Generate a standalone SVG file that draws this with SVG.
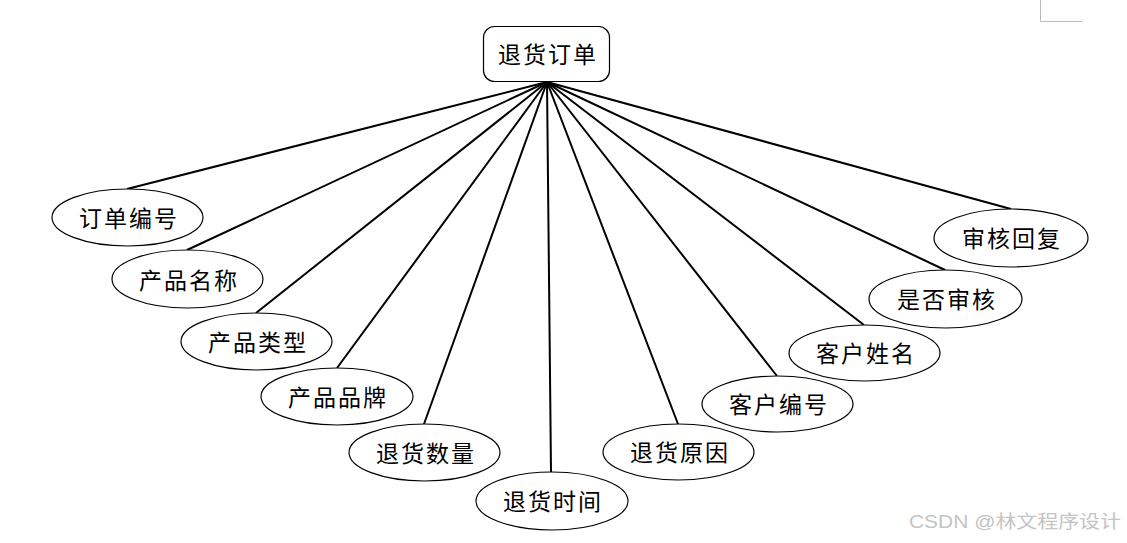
<svg xmlns="http://www.w3.org/2000/svg" width="1127" height="543" viewBox="0 0 1127 543">
<style>
.n ellipse{fill:#fff;stroke:#000;stroke-width:1.2}
.n rect{fill:#fff;stroke:#000;stroke-width:1.2}
.n text{font-family:"Noto Sans CJK SC","Noto Sans CJK JP",sans-serif;font-size:23px;letter-spacing:2px;fill:#000;text-anchor:middle;dominant-baseline:central}
#edges line{stroke:#000;stroke-width:2}
.wm{font-family:"Liberation Sans","Noto Sans CJK SC",sans-serif;font-size:18px;fill:#c4c4c4}
</style>
<rect width="1127" height="543" fill="#fff"/>
<path d="M1040.5 0 V21.5 H1082" fill="none" stroke="#bbb" stroke-width="1"/>
<g id="edges">
<line x1="547" y1="82" x2="127" y2="189"/>
<line x1="547" y1="82" x2="187" y2="250"/>
<line x1="547" y1="82" x2="256" y2="313"/>
<line x1="547" y1="82" x2="337" y2="368"/>
<line x1="547" y1="82" x2="424" y2="424"/>
<line x1="547" y1="82" x2="551" y2="472"/>
<line x1="547" y1="82" x2="678" y2="424"/>
<line x1="547" y1="82" x2="777" y2="376"/>
<line x1="547" y1="82" x2="864" y2="325"/>
<line x1="547" y1="82" x2="945" y2="270"/>
<line x1="547" y1="82" x2="1011" y2="209"/>
</g>
<g id="root" class="n"><rect x="483.5" y="26.5" width="126" height="55" rx="11"/><text x="548" y="53">退货订单</text></g>
<g id="n1" class="n"><ellipse cx="127.5" cy="217.5" rx="75.5" ry="28.5"/><text x="129" y="217">订单编号</text></g>
<g id="n2" class="n"><ellipse cx="187.5" cy="279" rx="75.5" ry="29"/><text x="189" y="279">产品名称</text></g>
<g id="n3" class="n"><ellipse cx="256.5" cy="341.5" rx="75.5" ry="28.5"/><text x="258" y="341">产品类型</text></g>
<g id="n4" class="n"><ellipse cx="337" cy="396.5" rx="76" ry="28.5"/><text x="338" y="396">产品品牌</text></g>
<g id="n5" class="n"><ellipse cx="424.5" cy="452.5" rx="75.5" ry="28.5"/><text x="426" y="452">退货数量</text></g>
<g id="n6" class="n"><ellipse cx="552" cy="501" rx="76" ry="29"/><text x="553" y="500">退货时间</text></g>
<g id="n7" class="n"><ellipse cx="678.5" cy="452" rx="75.5" ry="28"/><text x="680" y="451">退货原因</text></g>
<g id="n8" class="n"><ellipse cx="777.5" cy="404" rx="75.5" ry="28"/><text x="779" y="403">客户编号</text></g>
<g id="n9" class="n"><ellipse cx="864.5" cy="353" rx="75.5" ry="28"/><text x="866" y="352">客户姓名</text></g>
<g id="n10" class="n"><ellipse cx="945.5" cy="299" rx="76.5" ry="29"/><text x="947" y="298">是否审核</text></g>
<g id="n11" class="n"><ellipse cx="1011" cy="238" rx="77" ry="29"/><text x="1012" y="237">审核回复</text></g>
<text class="wm" x="909" y="528" textLength="212" lengthAdjust="spacingAndGlyphs">CSDN @林文程序设计</text>
</svg>
